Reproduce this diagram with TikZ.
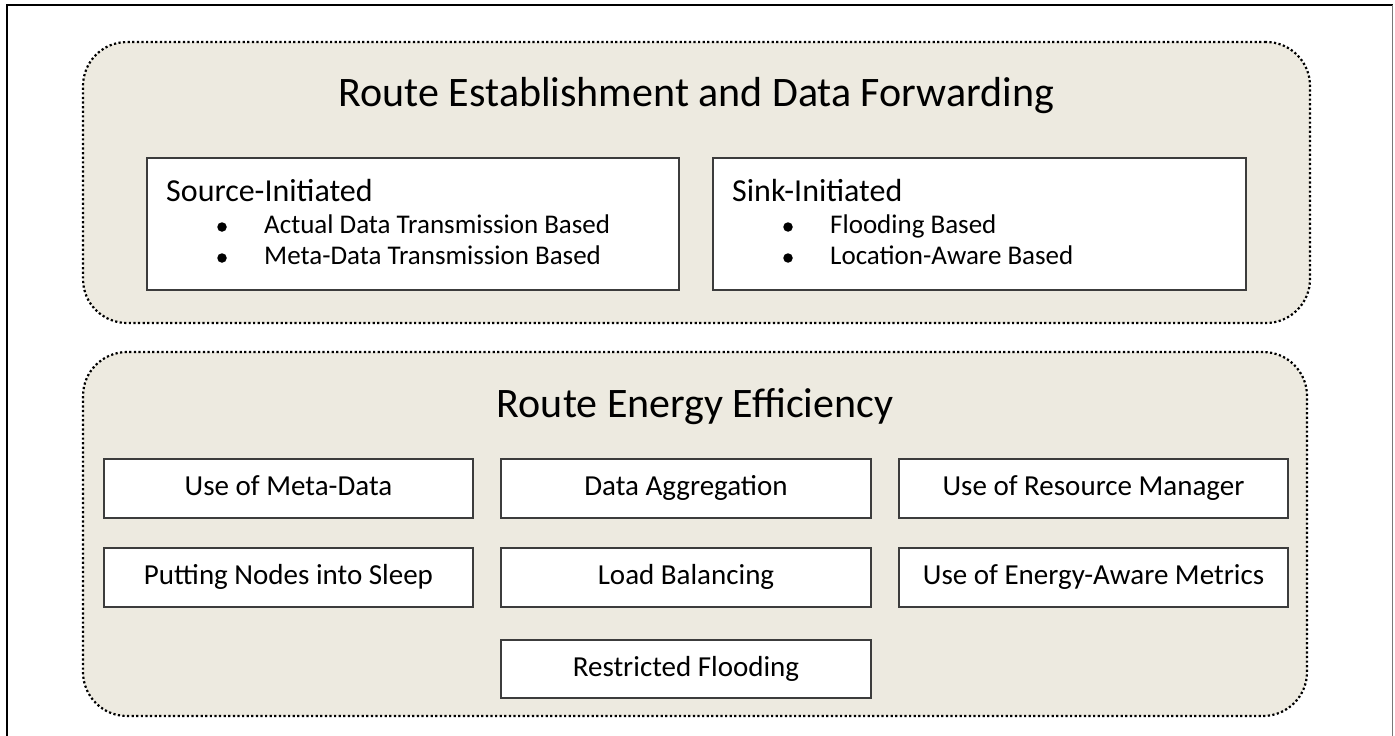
\documentclass[tikz,border=0pt]{standalone}
\usepackage{fontspec}
\setmainfont{Carlito}
\definecolor{panelfill}{RGB}{237,234,224}
\definecolor{boxline}{RGB}{60,60,60}
\definecolor{framegray}{RGB}{120,120,120}
\tikzset{
  panel/.style={draw=black, line width=2.2pt, dash pattern=on 2.2pt off 2.4pt,
    fill=panelfill, rounded corners=44pt, inner sep=0pt, outer sep=0pt, anchor=north west},
  itembox/.style={draw=boxline, line width=1.4pt, fill=white, inner sep=0pt,
    outer sep=0pt, anchor=north west},
  paneltitle/.style={font=\fontsize{42}{50}\selectfont, inner sep=0pt,
    text height=31.5pt, text depth=10.5pt},
  headtext/.style={font=\fontsize{32}{38}\selectfont, anchor=west, inner sep=0pt,
    text height=24pt, text depth=8pt},
  itemtext/.style={font=\fontsize{27}{32}\selectfont, anchor=west, inner sep=0pt,
    text height=20.25pt, text depth=6.75pt},
  boxtext/.style={font=\fontsize{29}{34}\selectfont, inner sep=0pt,
    text height=21.75pt, text depth=7.25pt},
  bulletdot/.style={circle, fill=black, inner sep=0pt, minimum size=9.5pt},
}
\begin{document}
\begin{tikzpicture}[x=1pt, y=-1pt]
  \useasboundingbox (0,0) rectangle (1395,736);

  % page frame
  \draw[line width=2.4pt, line cap=rect] (7,736) -- (7,5) -- (1392,5);
  \draw[framegray, line width=1.6pt] (1392.5,5) -- (1392.5,736);

  % upper panel: routing set-up
  \node[panel, minimum width=1227pt, minimum height=281pt] (route) at (83,42) {};
  \node[paneltitle] (routetitle) at (696.5,96) {Route Establishment and Data Forwarding};

  \node[itembox, minimum width=532pt, minimum height=132pt] (src) at (147,158) {};
  \node[headtext] (srchead) at (166,193) {Source-Initiated};
  \node[bulletdot] (srcb1) at (222,227) {};
  \node[itemtext] (srci1) at (264,227) {Actual Data Transmission Based};
  \node[bulletdot] (srcb2) at (222,258) {};
  \node[itemtext] (srci2) at (264,258) {Meta-Data Transmission Based};

  \node[itembox, minimum width=533pt, minimum height=132pt] (sink) at (713,158) {};
  \node[headtext] (sinkhead) at (732,193) {Sink-Initiated};
  \node[bulletdot] (sinkb1) at (788,227) {};
  \node[itemtext] (sinki1) at (830,227) {Flooding Based};
  \node[bulletdot] (sinkb2) at (788,258) {};
  \node[itemtext] (sinki2) at (830,258) {Location-Aware Based};

  % lower panel: energy efficiency
  \node[panel, minimum width=1224pt, minimum height=364pt] (energy) at (83,352) {};
  \node[paneltitle] (energytitle) at (695,407) {Route Energy Efficiency};

  \node[itembox, minimum width=369pt, minimum height=59pt] (meta) at (104,459) {};
  \node[boxtext] at (meta.center) {Use of Meta-Data};
  \node[itembox, minimum width=370pt, minimum height=59pt] (aggr) at (501,459) {};
  \node[boxtext] at (aggr.center) {Data Aggregation};
  \node[itembox, minimum width=389pt, minimum height=59pt] (resmgr) at (899,459) {};
  \node[boxtext] at (resmgr.center) {Use of Resource Manager};

  \node[itembox, minimum width=369pt, minimum height=59pt] (sleep) at (104,548) {};
  \node[boxtext] at (sleep.center) {Putting Nodes into Sleep};
  \node[itembox, minimum width=370pt, minimum height=59pt] (load) at (501,548) {};
  \node[boxtext] at (load.center) {Load Balancing};
  \node[itembox, minimum width=389pt, minimum height=59pt] (metrics) at (899,548) {};
  \node[boxtext] at (metrics.center) {Use of Energy-Aware Metrics};

  \node[itembox, minimum width=370pt, minimum height=58pt] (flood) at (501,640) {};
  \node[boxtext] at (flood.center) {Restricted Flooding};
\end{tikzpicture}
\end{document}
